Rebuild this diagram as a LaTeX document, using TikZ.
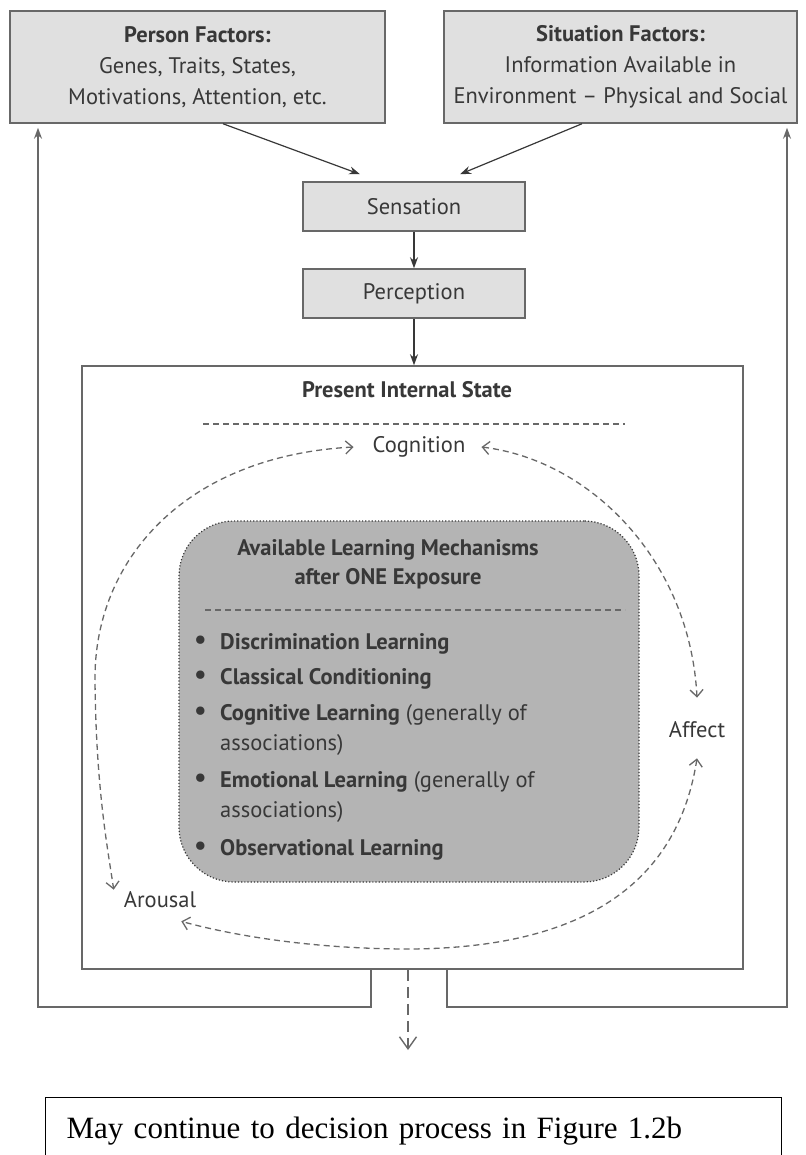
\documentclass[tikz,border=0pt]{standalone}
\usepackage{fontspec}
\setmainfont{PT Sans}
\newfontfamily\timesfont{Liberation Serif}
\usepackage{tikz}
\usetikzlibrary{arrows.meta,positioning,calc}

\definecolor{inkgray}{HTML}{383838}
\definecolor{linegray}{HTML}{686868}
\definecolor{boxfill}{HTML}{E0E0E0}
\definecolor{mechfill}{HTML}{B4B4B4}

\newcommand{\dotmark}{\llap{{\fontsize{30}{30}\selectfont\textbullet}\hspace{13pt}}}

\begin{document}
\begin{tikzpicture}[
  x=1pt, y=-1pt,
  every node/.style={font=\fontsize{22.5}{31}\selectfont, text=inkgray},
  factor/.style={draw=linegray, line width=1.5pt, fill=boxfill, align=center, inner sep=0pt},
  stage/.style={draw=linegray, line width=1.5pt, fill=boxfill, minimum width=222pt, minimum height=49pt, inner sep=0pt},
  tag/.style={inner sep=0pt},
  entry/.style={anchor=base west, inner sep=0pt},
  flow/.style={draw=inkgray, line width=1.2pt, -{Stealth[length=11pt,width=8pt]}},
  back/.style={draw=linegray, line width=1.5pt, -{Stealth[length=11pt,width=8pt]}},
  linkdash/.style={draw=linegray, line width=1.3pt, dash pattern=on 6pt off 4pt,
    {Straight Barb[length=7pt,width=13pt]}-{Straight Barb[length=7pt,width=13pt]}},
  outflow/.style={draw=linegray, line width=1.4pt, dash pattern=on 11pt off 6pt,
    -{Straight Barb[length=12pt,width=17pt]}},
  rule/.style={draw=linegray, line width=1.3pt, dash pattern=on 6pt off 4pt}
]
\useasboundingbox (0,0) rectangle (805,1155);

% factors and early stages
\node[factor, minimum width=375pt, minimum height=112pt] (person) at (197.5,67)
  {\textbf{Person Factors:}\\Genes, Traits, States,\\Motivations, Attention, etc.};
\node[factor, minimum width=353pt, minimum height=112pt] (situation) at (620.5,67)
  {\textbf{Situation Factors:}\\Information Available in\\Environment -- Physical and Social};
\node[stage] (sensation) at (414,206.5) {Sensation};
\node[stage] (perception) at (414,293.5) {Perception};

% present internal state
\node[draw=linegray, line width=1.5pt, minimum width=661pt, minimum height=603pt, inner sep=0pt] (state) at (412.5,667.5) {};
\node[tag, font=\fontsize{22.5}{31}\selectfont\bfseries] (statetitle) at (407,390) {Present Internal State};
\draw[rule] (203,424) -- (625,424);
\node[tag] (cognition) at (419,447) {Cognition};
\node[tag] (affect) at (697,730) {Affect};
\node[tag] (arousal) at (160,900) {Arousal};

% learning mechanisms
\node[draw=inkgray, dotted, line width=1.2pt, fill=mechfill, rounded corners=55pt,
  minimum width=460pt, minimum height=361pt] (mech) at (409,701.5) {};
\node[tag, font=\fontsize{22.5}{29}\selectfont\bfseries, align=center] (mechtitle) at (388,564.5)
  {Available Learning Mechanisms\\after ONE Exposure};
\draw[rule] (205,610) -- (625,610);
\node[entry] (disc) at (220,649) {\dotmark\textbf{Discrimination Learning}};
\node[entry] (class) at (220,684) {\dotmark\textbf{Classical Conditioning}};
\node[entry] (cogn) at (220,720) {\dotmark\textbf{Cognitive Learning} (generally of};
\node[entry] (cogn2) at (220,750) {associations)};
\node[entry] (emot) at (220,787) {\dotmark\textbf{Emotional Learning} (generally of};
\node[entry] (emot2) at (220,817) {associations)};
\node[entry] (obs) at (220,855) {\dotmark\textbf{Observational Learning}};

% next step
\node[draw=black, line width=1.2pt, anchor=north west, text=black, align=left,
  text width=694pt, inner xsep=21pt, inner ysep=0pt, minimum height=66pt,
  font=\timesfont\fontsize{31}{36}\selectfont] (next) at (45,1097)
  {May continue to decision process in Figure 1.2b};

\coordinate (backL) at (38,1007);
\coordinate (backR) at (787,1007);
\coordinate (onward) at (408,1050);

% connectors
\draw[flow] ([xshift=25.5pt]person.south) -- ([xshift=-54pt,yshift=7pt]sensation.north);
\draw[flow] ([xshift=-38.5pt]situation.south) -- ([xshift=46pt,yshift=7pt]sensation.north);
\draw[flow] (sensation.south) -- (perception.north);
\draw[flow] (perception.south) -- (perception.south |- state.north);
\draw[back, shorten >=4pt] ([xshift=-41.5pt]state.south) |- (backL) -- (backL |- person.south);
\draw[back, shorten >=4pt] ([xshift=34.5pt]state.south) |- (backR) -- (backR |- situation.south);
\draw[outflow] ([xshift=-4.5pt]state.south) -- (onward);

% loop between cognition, affect and arousal
\draw[linkdash] ([xshift=-19pt]cognition.west) .. controls (185,456) and (94,560) .. (95,680)
  .. controls (96,790) and (108,850) .. ([xshift=-10pt,yshift=2pt]arousal.north west);
\draw[linkdash] ([xshift=16pt]cognition.east) .. controls (590,460) and (690,560) .. ([yshift=24pt]affect.north);
\draw[linkdash] ([yshift=-20pt]affect.south) .. controls (675,900) and (560,948) .. (410,949)
  .. controls (300,949) and (220,932) .. ([xshift=-15pt,yshift=-13pt]arousal.south east);
\end{tikzpicture}
\end{document}
